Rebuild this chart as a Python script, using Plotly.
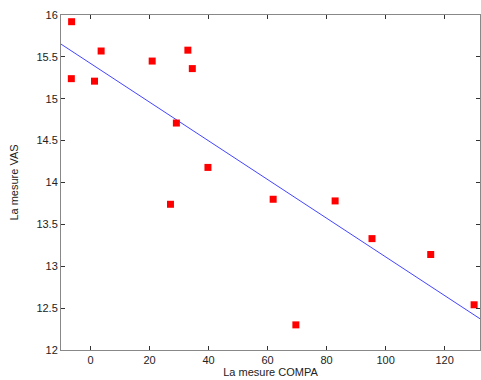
import numpy as np
import plotly.graph_objects as go

compa = [-6.5, -6.4, 1.35, 3.6, 20.9, 33.0, 34.5, 29.1, 39.8, 27.1, 61.9, 82.9, 69.6, 95.4, 115.3, 130.0]
vas = [15.24, 15.92, 15.21, 15.57, 15.45, 15.58, 15.36, 14.71, 14.18, 13.74, 13.80, 13.78, 12.30, 13.33, 13.14, 12.54]
x_range = [-10, 132]
y_range = [12, 16]

slope, intercept = np.polyfit(compa, vas, 1)
fit_x = np.array(x_range, dtype=float)
fit_y = slope * fit_x + intercept

fig = go.Figure()
fig.add_trace(go.Scatter(x=fit_x, y=fit_y, mode="lines",
                         line=dict(color="#4444ff", width=1), showlegend=False))
fig.add_trace(go.Scatter(x=compa, y=vas, mode="markers",
                         marker=dict(symbol="square", size=7, color="#ff0000"), showlegend=False))

axis_common = dict(showgrid=False, zeroline=False, showline=True, linecolor="#888888",
                   linewidth=1, mirror="ticks", ticks="inside", ticklen=4,
                   tickcolor="#333333", tickfont=dict(family="Liberation Sans, Arial", size=11, color="#222222"))

fig.update_layout(
    width=481, height=380,
    margin=dict(l=61, r=1, t=15, b=30),
    plot_bgcolor="white", paper_bgcolor="white",
    xaxis=dict(range=x_range, tickvals=[0, 20, 40, 60, 80, 100, 120],
               title=dict(text="La mesure COMPA", font=dict(family="Liberation Sans, Arial", size=11, color="#222222"), standoff=3),
               **axis_common),
    yaxis=dict(range=y_range, tickvals=[12, 12.5, 13, 13.5, 14, 14.5, 15, 15.5, 16],
               ticktext=["12", "12.5", "13", "13.5", "14", "14.5", "15", "15.5", "16"],
               title=dict(text="La mesure VAS", font=dict(family="Liberation Sans, Arial", size=11, color="#222222"), standoff=15),
               **axis_common),
)

fig.write_html("out.html")
